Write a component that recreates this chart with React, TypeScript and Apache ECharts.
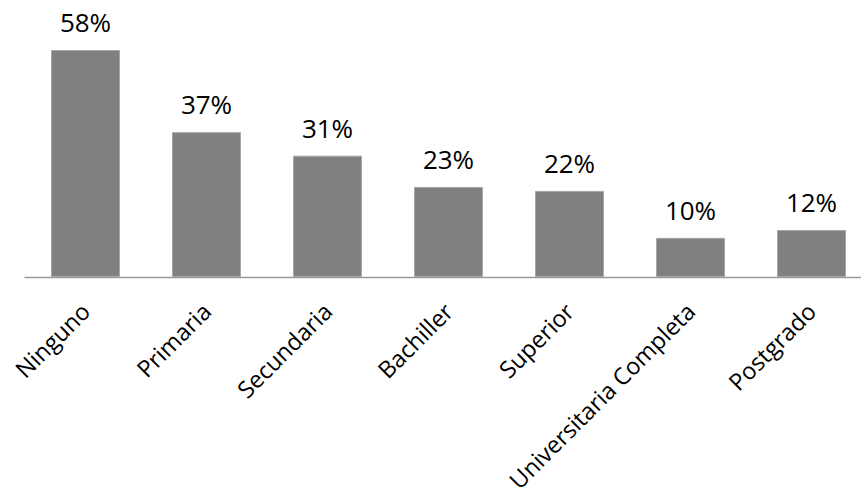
import React, { useEffect, useRef } from "react";
import * as echarts from "echarts";

const categories = ["Ninguno", "Primaria", "Secundaria", "Bachiller", "Superior", "Universitaria Completa", "Postgrado"];
const values = [58, 37, 31, 23, 22, 10, 12];

export default function App() {
  const ref = useRef<HTMLDivElement>(null);
  useEffect(() => {
    const chart = echarts.init(ref.current!, null, { renderer: "svg" });
    chart.setOption({
      animation: false,
      backgroundColor: "#ffffff",
      grid: { left: 25, right: 0, top: 50, bottom: 217, containLabel: false },
      xAxis: {
        type: "category",
        data: categories,
        axisLine: { show: true, lineStyle: { color: "#9a9a9a", width: 1.3 } },
        axisTick: { show: false },
        axisLabel: {
          rotate: 45,
          interval: 0,
          margin: 30,
          color: "#000000",
          fontFamily: "Open Sans",
          fontSize: 23.5,
        },
      },
      yAxis: {
        type: "value",
        min: 0,
        max: 58,
        show: false,
        splitLine: { show: false },
      },
      series: [
        {
          type: "bar",
          data: values,
          barWidth: "57%",
          itemStyle: { color: "#808080", borderColor: "#a6a6a6", borderWidth: 1 },
          label: {
            show: true,
            position: "top",
            distance: 15,
            formatter: "{c}%",
            color: "#000000",
            fontFamily: "Open Sans",
            fontSize: 26,
          },
        },
      ],
    });
    return () => chart.dispose();
  }, []);
  return (
    <div style={{ position: "fixed", left: 0, top: 0, width: 861, height: 495, overflow: "hidden", background: "#fff" }}>
      <div ref={ref} style={{ width: 872, height: 495 }} />
    </div>
  );
}
